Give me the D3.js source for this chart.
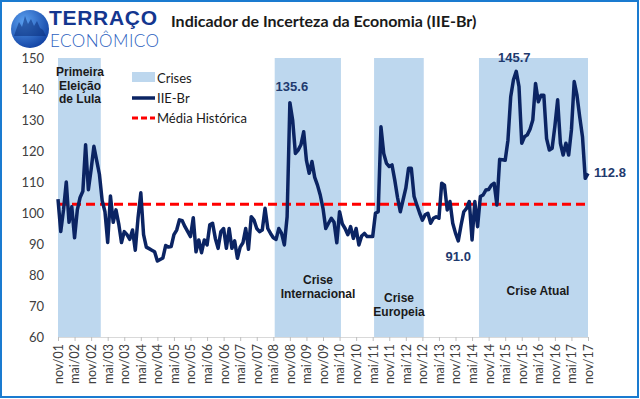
<!DOCTYPE html>
<html>
<head>
<meta charset="utf-8">
<script src="https://cdn.jsdelivr.net/npm/d3@7"></script>
<style>
  html, body { margin: 0; padding: 0; background: #fff; }
  svg { display: block; }
</style>
</head>
<body>
<svg id="chart" width="640" height="399"></svg>
<script>
// monthly IIE-Br, nov/01 .. nov/17
const iieBr = [
  104.5, 94, 101, 110, 97, 102, 92, 101, 105, 107, 122, 107.5,
  114, 121.5, 117, 112.5, 104, 100.5, 90.5, 105.5, 97, 101, 96.5, 90.5,
  94, 93, 91.5, 94.5, 88, 98.5, 106.5, 93, 89, 88.5, 88, 87.5,
  84.5, 85, 85.5, 89.5, 89, 89.2, 93, 94.5, 97.8, 97.5, 95.6, 94,
  92.4, 98.5, 87.5, 91.3, 87.2, 91.3, 89.7, 96.2, 96.7, 91.8, 88.6, 94,
  95, 88.6, 95, 88.6, 91, 85.4, 89, 90.4, 95, 88.3, 98.8, 97.7,
  95, 94, 94.5, 101.5, 95, 93.4, 92, 91.5, 95, 93.4, 89.7, 98.8,
  135.6, 130, 119.2, 120.3, 122, 126.2, 117, 112.8, 116.6, 111.5, 109, 105.8,
  101.5, 95, 96.7, 98.3, 97, 90.4, 100.4, 96.5, 95, 93, 95.6, 91.8,
  95, 89.7, 92.6, 93.4, 92.4, 92.4, 92.4, 99.9, 100.4, 127.8, 119.2, 116,
  115, 115.5, 110.6, 105, 100.4, 104.2, 108, 114.4, 114.4, 105.3, 102.6, 100,
  97.7, 99.4, 99.9, 96.7, 98.3, 98.8, 98.3, 109.6, 109, 101, 103.7, 96.7,
  93.5, 91, 96, 100.4, 101.5, 103.7, 91.3, 103.7, 95.6, 105.3, 105.8, 107.4,
  107.6, 109, 109.6, 102.6, 117.3, 117.2, 117, 123.5, 137.5, 143, 145.7, 140.8,
  122.5, 124.6, 125.2, 127, 130, 141.8, 135.9, 138, 138, 124, 120.3, 120.9,
  128, 136.5, 122.5, 118.7, 122.5, 118.7, 126.8, 142.4, 138, 131, 124.6, 111.2,
  112.8
];
const mediaHistorica = 102.8;

// crisis periods (first and last month index)
const crisisStart = [0, 79, 115, 153];
const crisisEnd = [15, 102, 132, 192];
const crisisNames = [["Primeira", "Eleição", "de Lula"], ["Crise", "Internacional"], ["Crise", "Europeia"], ["Crise Atual"]];

const yTicks = [60, 70, 80, 90, 100, 110, 120, 130, 140, 150];
const monthNames = ["jan", "fev", "mar", "abr", "mai", "jun", "jul", "ago", "set", "out", "nov", "dez"];

// highlighted values
const callouts = [
  { i: 84, label: "135.6" },
  { i: 166, label: "145.7" },
  { i: 145, label: "91.0" },
  { i: 192, label: "112.8" }
];

const svg = d3.select("#chart");
const W = 640, H = 399;

const x = d3.scaleLinear().domain([0, iieBr.length - 1]).range([58, 588]);
const y = d3.scaleLinear().domain([60, 150]).range([337, 58]);

const navy = "#0b2463";
const font = "Lato, 'Open Sans', sans-serif";
const boldFont = "'Liberation Sans', Arial, sans-serif";

// outer frame
svg.append("rect").attr("x", 1).attr("y", 1).attr("width", W - 3).attr("height", H - 3)
  .attr("fill", "#fff").attr("stroke", "#1a7bd0").attr("stroke-width", 2);

// logo
const logo = svg.append("g");
const grad = svg.append("defs").append("radialGradient").attr("id", "lg")
  .attr("cx", "35%").attr("cy", "30%").attr("r", "80%");
grad.append("stop").attr("offset", "0%").attr("stop-color", "#5aa0f0");
grad.append("stop").attr("offset", "100%").attr("stop-color", "#0d3c9e");
logo.append("circle").attr("cx", 30).attr("cy", 29).attr("r", 19).attr("fill", "url(#lg)");
const sky = [[16, 30], [19, 22], [22, 27], [25, 16], [28, 24], [31, 19], [34, 26], [37, 21], [40, 28], [43, 30]];
logo.append("path")
  .attr("d", "M14,36 " + sky.map(d => `L${d[0]},${d[1]}`).join(" ") + " L46,36 Z")
  .attr("fill", "#0a2e7a").attr("opacity", 0.55);
logo.append("text").attr("x", 49).attr("y", 25).text("TERRAÇO")
  .attr("font-family", "'Liberation Sans', Arial, sans-serif").attr("font-weight", "900")
  .attr("font-size", 21).attr("fill", "#14368f").attr("textLength", 108);
logo.append("text").attr("x", 50).attr("y", 47).text("ECONÔMICO")
  .attr("font-family", "Lato, sans-serif").attr("font-weight", "300")
  .attr("font-size", 17).attr("fill", "#2c5fc0").attr("textLength", 109);

// title
svg.append("text").attr("x", 171).attr("y", 27)
  .text("Indicador de Incerteza da Economia (IIE-Br)")
  .attr("font-family", font).attr("font-weight", "bold").attr("font-size", 16)
  .attr("fill", "#1a1a1a");

// crisis bands
const bands = crisisStart.map((s, k) => ({ s, e: crisisEnd[k], name: crisisNames[k] }));
svg.append("g").selectAll("rect").data(bands).join("rect")
  .attr("x", d => x(Math.max(0, d.s - 0.5)))
  .attr("width", d => x(Math.min(iieBr.length - 1, d.e + 0.5)) - x(Math.max(0, d.s - 0.5)))
  .attr("y", y(150)).attr("height", y(60) - y(150))
  .attr("fill", "#bdd7ee");

// band labels
const bandLabelPos = [[80, 76], [318, 284], [399, 302], [538, 295]];
bands.forEach((b, k) => {
  const t = svg.append("text").attr("text-anchor", "middle")
    .attr("font-family", boldFont).attr("font-weight", "bold").attr("font-size", 12)
    .attr("fill", "#1a1a1a");
  b.name.forEach((ln, j) => {
    t.append("tspan").attr("x", bandLabelPos[k][0]).attr("y", bandLabelPos[k][1] + j * 13.5).text(ln);
  });
});

// axes
const xTickVals = d3.range(0, iieBr.length, 6);
const monthLabel = i => {
  const m = (10 + i) % 12;
  const yr = 2001 + Math.floor((10 + i) / 12);
  return monthNames[m] + "/" + String(yr % 100).padStart(2, "0");
};

const xAxis = svg.append("g").attr("transform", `translate(0,${y(60)})`)
  .call(d3.axisBottom(x).tickValues(xTickVals).tickSize(4).tickFormat(monthLabel));
xAxis.select(".domain").attr("stroke", "#d9d9d9");
xAxis.selectAll(".tick line").attr("stroke", "#bfbfbf");
xAxis.selectAll(".tick text")
  .attr("font-family", font).attr("font-size", 12.5).attr("fill", "#404040")
  .attr("transform", "rotate(-90)").attr("text-anchor", "end")
  .attr("x", -7).attr("y", 0).attr("dy", "0.35em");

const yAxis = svg.append("g").attr("transform", "translate(52,0)")
  .call(d3.axisLeft(y).tickValues(yTicks).tickSize(0).tickPadding(8));
yAxis.select(".domain").remove();
yAxis.selectAll(".tick text")
  .attr("font-family", font).attr("font-size", 13).attr("fill", "#404040");

// historical mean
svg.append("line")
  .attr("x1", x(0)).attr("x2", x(iieBr.length - 1))
  .attr("y1", y(mediaHistorica)).attr("y2", y(mediaHistorica))
  .attr("stroke", "#ff0000").attr("stroke-width", 3).attr("stroke-dasharray", "9,5");

// series line
const line = d3.line().x((d, i) => x(i)).y(d => y(d));
svg.append("path").datum(iieBr)
  .attr("d", line).attr("fill", "none")
  .attr("stroke", navy).attr("stroke-width", 3.5).attr("stroke-linejoin", "round");

// callouts
const calloutOffset = { "135.6": [2, -12], "145.7": [-2, -9], "91.0": [0, 20], "112.8": [22, 4] };
svg.append("g").selectAll("text").data(callouts).join("text")
  .attr("x", d => x(d.i) + calloutOffset[d.label][0])
  .attr("y", d => y(iieBr[d.i]) + calloutOffset[d.label][1])
  .attr("text-anchor", "middle")
  .attr("font-family", boldFont).attr("font-weight", "bold").attr("font-size", 13)
  .attr("fill", "#1f3a6e").text(d => d.label);

// legend
const lg = svg.append("g");
lg.append("rect").attr("x", 132).attr("y", 72).attr("width", 23).attr("height", 10).attr("fill", "#bdd7ee");
lg.append("line").attr("x1", 132).attr("x2", 155).attr("y1", 98).attr("y2", 98)
  .attr("stroke", navy).attr("stroke-width", 3.5);
lg.append("line").attr("x1", 132).attr("x2", 155).attr("y1", 118).attr("y2", 118)
  .attr("stroke", "#ff0000").attr("stroke-width", 3).attr("stroke-dasharray", "6,3");
[["Crises", 78], ["IIE-Br", 98], ["Média Histórica", 118]].forEach(d => {
  lg.append("text").attr("x", 157).attr("y", d[1]).attr("dy", "0.35em").text(d[0])
    .attr("font-family", font).attr("font-size", 13).attr("fill", "#1a1a1a");
});
</script>
</body>
</html>
